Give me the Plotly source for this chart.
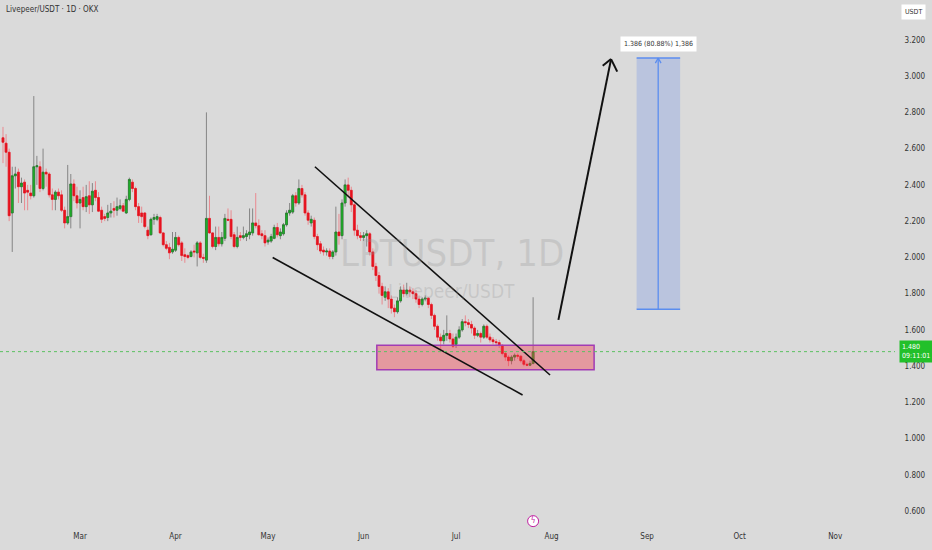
import numpy as np
import pandas as pd
import plotly.graph_objects as go

# --- données, bougies journalières LPT/USDT ---
start = "2025-02-04"
opens = [2.66, 2.63, 2.58, 2.245, 2.45, 2.47, 2.39, 2.415, 2.37, 2.355,
         2.34, 2.50, 2.50, 2.38, 2.47, 2.46, 2.345, 2.32, 2.36, 2.345,
         2.26, 2.19, 2.225, 2.405, 2.34, 2.30, 2.33, 2.28, 2.34, 2.29,
         2.37, 2.33, 2.26, 2.225, 2.22, 2.245, 2.27, 2.26, 2.27, 2.285,
         2.245, 2.32, 2.415, 2.38, 2.28, 2.245, 2.245, 2.15, 2.125, 2.21,
         2.21, 2.22, 2.135, 2.07, 2.055, 2.03, 2.04, 2.11, 2.08, 2.015,
         2.01, 2.005, 2.035, 2.025, 2.08, 2.00, 1.985, 2.215, 2.135, 2.06,
         2.11, 2.075, 2.105, 2.21, 2.21, 2.125, 2.06, 2.12, 2.11, 2.115,
         2.125, 2.135, 2.19, 2.175, 2.13, 2.12, 2.085, 2.09, 2.105, 2.165,
         2.12, 2.13, 2.18, 2.245, 2.25, 2.34, 2.30, 2.38, 2.345, 2.245,
         2.19, 2.205, 2.115, 2.075, 2.04, 2.03, 2.035, 2.005, 2.03, 2.14,
         2.12, 2.30, 2.40, 2.37, 2.29, 2.15, 2.12, 2.11, 2.12, 2.13,
         2.03, 1.95, 1.90, 1.84, 1.78, 1.81, 1.77, 1.72, 1.70, 1.76,
         1.82, 1.80, 1.82, 1.81, 1.80, 1.77, 1.74, 1.77, 1.775, 1.74,
         1.68, 1.62, 1.56, 1.54, 1.57, 1.58, 1.55, 1.52, 1.56, 1.60,
         1.645, 1.64, 1.63, 1.61, 1.57, 1.58, 1.56, 1.62, 1.56, 1.545,
         1.535, 1.53, 1.515, 1.47, 1.45, 1.43, 1.45, 1.46, 1.455, 1.43,
         1.41, 1.405, 1.415]
highs = [2.72, 2.68, 2.60, 2.50, 2.50, 2.49, 2.44, 2.43, 2.40, 2.40,
         2.89, 2.56, 2.53, 2.60, 2.49, 2.47, 2.38, 2.37, 2.38, 2.37,
         2.28, 2.51, 2.46, 2.43, 2.39, 2.37, 2.39, 2.40, 2.42, 2.41,
         2.42, 2.36, 2.28, 2.24, 2.29, 2.30, 2.31, 2.33, 2.32, 2.30,
         2.34, 2.44, 2.43, 2.39, 2.30, 2.28, 2.25, 2.17, 2.22, 2.24,
         2.24, 2.23, 2.14, 2.09, 2.08, 2.14, 2.14, 2.12, 2.09, 2.05,
         2.02, 2.04, 2.07, 2.09, 2.09, 2.02, 2.80, 2.34, 2.14, 2.17,
         2.17, 2.14, 2.24, 2.27, 2.26, 2.14, 2.17, 2.14, 2.17, 2.15,
         2.27, 2.27, 2.355, 2.21, 2.15, 2.15, 2.11, 2.13, 2.18, 2.19,
         2.16, 2.19, 2.26, 2.30, 2.35, 2.36, 2.43, 2.40, 2.36, 2.26,
         2.23, 2.22, 2.13, 2.09, 2.06, 2.05, 2.05, 2.04, 2.28, 2.24,
         2.32, 2.43, 2.44, 2.39, 2.30, 2.18, 2.14, 2.14, 2.15, 2.14,
         2.05, 1.97, 1.92, 1.86, 1.84, 1.83, 1.79, 1.74, 1.78, 1.84,
         1.85, 1.86, 1.84, 1.83, 1.82, 1.79, 1.78, 1.79, 1.78, 1.75,
         1.69, 1.63, 1.58, 1.60, 1.68, 1.60, 1.58, 1.58, 1.62, 1.66,
         1.68, 1.66, 1.65, 1.62, 1.60, 1.59, 1.63, 1.63, 1.58, 1.56,
         1.55, 1.545, 1.52, 1.48, 1.46, 1.46, 1.47, 1.47, 1.46, 1.44,
         1.42, 1.43, 1.78]
lows = [2.52, 2.50, 2.20, 2.03, 2.38, 2.30, 2.30, 2.26, 2.26, 2.32,
        2.33, 2.40, 2.36, 2.37, 2.39, 2.33, 2.26, 2.26, 2.32, 2.25,
        2.16, 2.18, 2.16, 2.31, 2.27, 2.16, 2.26, 2.25, 2.24, 2.25,
        2.31, 2.25, 2.19, 2.20, 2.20, 2.22, 2.22, 2.23, 2.26, 2.25,
        2.24, 2.31, 2.36, 2.26, 2.19, 2.19, 2.16, 2.10, 2.12, 2.18,
        2.20, 2.13, 2.06, 2.04, 1.99, 2.02, 2.03, 2.06, 1.98, 1.97,
        1.99, 2.00, 2.00, 1.95, 1.99, 1.97, 1.97, 2.13, 2.05, 2.04,
        2.06, 2.06, 2.09, 2.20, 2.10, 2.05, 2.05, 2.09, 2.10, 2.09,
        2.10, 2.12, 2.16, 2.12, 2.10, 2.06, 2.07, 2.08, 2.10, 2.11,
        2.10, 2.12, 2.17, 2.23, 2.24, 2.28, 2.29, 2.33, 2.23, 2.18,
        2.17, 2.10, 2.04, 2.02, 2.01, 2.01, 1.99, 1.99, 2.01, 2.07,
        2.10, 2.28, 2.33, 2.25, 2.12, 2.10, 2.09, 2.09, 2.06, 2.01,
        1.93, 1.87, 1.80, 1.74, 1.76, 1.72, 1.69, 1.67, 1.69, 1.75,
        1.78, 1.79, 1.78, 1.77, 1.75, 1.72, 1.73, 1.76, 1.72, 1.66,
        1.60, 1.54, 1.49, 1.52, 1.54, 1.53, 1.50, 1.50, 1.55, 1.59,
        1.62, 1.61, 1.58, 1.55, 1.56, 1.53, 1.55, 1.55, 1.53, 1.52,
        1.51, 1.50, 1.46, 1.43, 1.40, 1.41, 1.43, 1.44, 1.42, 1.40,
        1.40, 1.40, 1.41]
closes = [2.635, 2.58, 2.23, 2.45, 2.46, 2.39, 2.41, 2.355, 2.36, 2.34,
          2.50, 2.505, 2.38, 2.47, 2.46, 2.345, 2.32, 2.36, 2.34, 2.26,
          2.19, 2.225, 2.405, 2.34, 2.30, 2.32, 2.28, 2.335, 2.29, 2.365,
          2.33, 2.255, 2.21, 2.215, 2.245, 2.255, 2.26, 2.28, 2.285, 2.255,
          2.32, 2.43, 2.38, 2.28, 2.23, 2.225, 2.17, 2.12, 2.21, 2.22,
          2.225, 2.135, 2.07, 2.05, 2.025, 2.045, 2.11, 2.07, 2.01, 2.005,
          2.00, 2.03, 2.03, 2.08, 2.00, 1.995, 2.215, 2.135, 2.06, 2.11,
          2.075, 2.11, 2.215, 2.205, 2.115, 2.06, 2.11, 2.11, 2.12, 2.13,
          2.14, 2.19, 2.175, 2.125, 2.12, 2.08, 2.095, 2.115, 2.165, 2.125,
          2.14, 2.18, 2.245, 2.26, 2.34, 2.30, 2.38, 2.345, 2.245, 2.205,
          2.21, 2.115, 2.07, 2.035, 2.03, 2.035, 2.005, 2.03, 2.14, 2.12,
          2.30, 2.40, 2.37, 2.29, 2.15, 2.12, 2.11, 2.12, 2.13, 2.03,
          1.95, 1.90, 1.84, 1.79, 1.81, 1.77, 1.72, 1.70, 1.76, 1.82,
          1.80, 1.82, 1.81, 1.80, 1.77, 1.74, 1.77, 1.775, 1.74, 1.68,
          1.62, 1.56, 1.54, 1.57, 1.58, 1.55, 1.51, 1.56, 1.60, 1.645,
          1.64, 1.63, 1.61, 1.57, 1.58, 1.56, 1.62, 1.56, 1.545, 1.535,
          1.53, 1.515, 1.47, 1.45, 1.43, 1.45, 1.46, 1.455, 1.43, 1.41,
          1.405, 1.415, 1.48]
dates = pd.date_range(start, periods=len(closes), freq="D")

last_price = 1.480
last_label = "1.480<br>09:11:01"

# dessins (date, prix)
wedge_haut = [("2025-05-16 05:00", 2.50), ("2025-07-31 12:00", 1.351)]
wedge_bas = [("2025-05-02 12:00", 1.999), ("2025-07-22 14:00", 1.241)]
zone = [("2025-06-05 07:00", 1.38), ("2025-08-14 19:00", 1.515)]
projection = [("2025-08-28 14:00", 1.714), ("2025-09-11 17:00", 3.100)]
projection_mid = "2025-09-04 14:00"
projection_txt = "1.386 (80.88%) 1,386"
fleche = [("2025-08-03 05:00", 1.655), ("2025-08-20 07:00", 3.094)]
fleche_bras = [("2025-08-17 14:00", 3.057), ("2025-08-22 07:00", 3.025)]
chevron_bleu = [("2025-09-03 16:00", 3.072), ("2025-09-05 12:00", 3.072)]

BG = "#dadada"
FONT = "Liberation Sans Narrow, DejaVu Sans Condensed, Liberation Sans, sans-serif"

o = np.array(opens); c = np.array(closes)
fig = go.Figure()
# mèches (gris pour hausse, rose pour baisse)
fig.add_trace(go.Candlestick(
    x=dates, open=opens, high=highs, low=lows, close=closes,
    increasing=dict(line=dict(color="#858585", width=1), fillcolor="#858585"),
    decreasing=dict(line=dict(color="#e98a90", width=1), fillcolor="#e98a90"),
    hoverinfo="skip", showlegend=False))
# corps
fig.add_trace(go.Candlestick(
    x=dates, open=opens, high=np.maximum(o, c), low=np.minimum(o, c), close=closes,
    increasing=dict(line=dict(color="#1d7a24", width=0.6), fillcolor="#1fb52a"),
    decreasing=dict(line=dict(color="#e0101c", width=0.6), fillcolor="#e8131f"),
    showlegend=False))

shapes = []
# zone rose
shapes.append(dict(type="rect", xref="x", yref="y",
                   x0=zone[0][0], x1=zone[1][0], y0=zone[0][1], y1=zone[1][1],
                   fillcolor="rgba(242,54,69,0.40)",
                   line=dict(color="#a23cb4", width=1.5), layer="above"))
# biseau
for seg in (wedge_haut, wedge_bas):
    shapes.append(dict(type="line", xref="x", yref="y",
                       x0=seg[0][0], y0=seg[0][1], x1=seg[1][0], y1=seg[1][1],
                       line=dict(color="#111111", width=1.6)))
# projection bleue
shapes.append(dict(type="rect", xref="x", yref="y",
                   x0=projection[0][0], x1=projection[1][0],
                   y0=projection[0][1], y1=projection[1][1],
                   fillcolor="rgba(90,130,235,0.25)", line=dict(width=0)))
for yv in (projection[0][1], projection[1][1]):
    shapes.append(dict(type="line", xref="x", yref="y",
                       x0=projection[0][0], x1=projection[1][0], y0=yv, y1=yv,
                       line=dict(color="#5b8def", width=1.6)))
shapes.append(dict(type="line", xref="x", yref="y",
                   x0=projection_mid, x1=projection_mid,
                   y0=projection[0][1], y1=projection[1][1],
                   line=dict(color="#5b8def", width=1.3)))
for bx, by in chevron_bleu:
    shapes.append(dict(type="line", xref="x", yref="y",
                       x0=projection_mid, y0=projection[1][1], x1=bx, y1=by,
                       line=dict(color="#5b8def", width=1.3)))
# flèche noire
shapes.append(dict(type="line", xref="x", yref="y",
                   x0=fleche[0][0], y0=fleche[0][1], x1=fleche[1][0], y1=fleche[1][1],
                   line=dict(color="#111111", width=2)))
for bx, by in fleche_bras:
    shapes.append(dict(type="line", xref="x", yref="y",
                       x0=fleche[1][0], y0=fleche[1][1], x1=bx, y1=by,
                       line=dict(color="#111111", width=2)))
# ligne du dernier prix
shapes.append(dict(type="line", xref="paper", yref="y", x0=0, x1=1,
                   y0=last_price, y1=last_price,
                   line=dict(color="#5cc062", width=1, dash="dot")))

WM = "rgba(150,150,150,0.28)"
annotations = [
    dict(text="LPTUSDT, 1D", xref="paper", yref="paper", x=0.505, y=0.523,
         showarrow=False, font=dict(family=FONT, size=38, color=WM)),
    dict(text="Livepeer/USDT", xref="paper", yref="paper", x=0.505, y=0.451,
         showarrow=False, font=dict(family=FONT, size=19, color=WM)),
    dict(text="Livepeer/USDT · 1D · OKX", xref="paper", yref="paper", x=0.005, y=0.995,
         xanchor="left", yanchor="top", showarrow=False,
         font=dict(family=FONT, size=8, color="#333333")),
    dict(text=projection_txt, xref="x", yref="y", x=projection_mid, y=projection[1][1],
         yshift=14, showarrow=False, bgcolor="white", borderpad=3,
         font=dict(family=FONT, size=7, color="#333333")),
    dict(text="USDT", xref="paper", yref="paper", x=1.007, y=0.992, xanchor="left",
         yanchor="top", showarrow=False, bgcolor="white", borderpad=3,
         font=dict(family=FONT, size=7, color="#333333")),
    dict(text=last_label, xref="paper", yref="y", x=1.005, y=last_price,
         xanchor="left", showarrow=False, bgcolor="#22c02a", borderpad=2, align="left",
         font=dict(family=FONT, size=7, color="white")),
]

# petite icône éclair sur l'axe du temps
fig.add_trace(go.Scatter(
    x=[dates[-1]], y=[0.545], mode="markers+text", text=["ϟ"],
    textposition="middle center", textfont=dict(size=8, color="#c020a0"),
    marker=dict(size=11, color="white", line=dict(color="#c020a0", width=1)),
    hoverinfo="skip", showlegend=False, cliponaxis=False))

fig.update_layout(
    width=932, height=550,
    margin=dict(l=0, r=37, t=0, b=20),
    paper_bgcolor=BG, plot_bgcolor=BG,
    boxgap=0.12,
    shapes=shapes, annotations=annotations,
    font=dict(family=FONT, size=8, color="#333333"),
    xaxis=dict(range=["2025-02-03 00:43", "2025-11-20 10:00"], rangeslider=dict(visible=False),
               showgrid=False, zeroline=False, dtick="M1", tickformat="%b",
               ticks="", showline=False, tickfont=dict(size=8)),
    yaxis=dict(range=[0.496, 3.42], side="right", showgrid=False, zeroline=False,
               tickvals=[0.6, 0.8, 1.0, 1.2, 1.4, 1.6, 1.8, 2.0, 2.2, 2.4, 2.6, 2.8, 3.0, 3.2],
               tickformat=".3f", ticks="outside", ticklen=7, tickcolor=BG,
               showline=False, tickfont=dict(size=8)),
    hovermode=False,
)

fig.write_html("out.html", config={"displayModeBar": False},
               post_script="document.body.style.margin='0';")
